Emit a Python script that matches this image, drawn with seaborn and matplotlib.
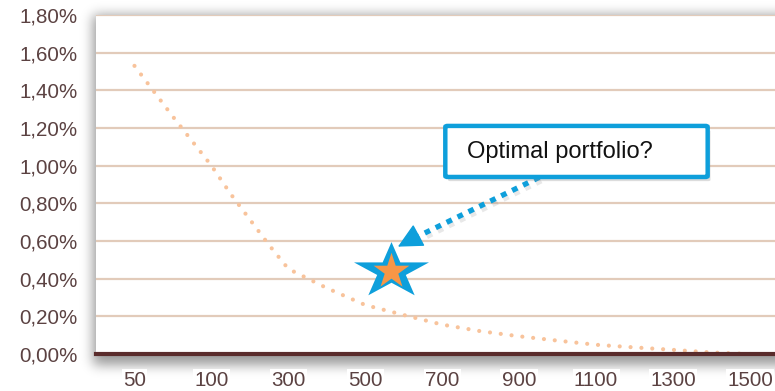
import numpy as np
import pandas as pd
import matplotlib
matplotlib.use("Agg")
import matplotlib.pyplot as plt
import matplotlib.patheffects as pe
from matplotlib.path import Path
from matplotlib.patches import FancyBboxPatch
import seaborn as sns

# Category axis: number of stocks in the portfolio
tick_sizes = [50, 100, 300, 500, 700, 900, 1100, 1300, 1500]

# Residual (diversifiable) risk versus portfolio size, in percent
curve_sizes = [50, 75, 100, 150, 200, 250, 300, 400, 500, 600, 700, 800,
               900, 1000, 1100, 1200, 1300, 1400, 1500]
curve_risk = [1.53, 1.26, 1.00, 0.85, 0.714, 0.578, 0.452, 0.350, 0.260,
              0.207, 0.156, 0.121, 0.094, 0.071, 0.049, 0.035, 0.022,
              0.008, 0.0]

# Highlighted candidate portfolio
opt_size = 566
opt_risk = 0.44
callout_text = "Optimal portfolio?"

y_ticks = [0.0, 0.2, 0.4, 0.6, 0.8, 1.0, 1.2, 1.4, 1.6, 1.8]

BLUE = "#0E9FDB"
ORANGE = "#F79646"
PEACH = "#F8C39B"
GRID = "#E2CBBA"
AXIS = "#5A2C2C"
LABEL = "#5B4242"

sns.set_theme(style="white")
plt.rcParams["font.family"] = ["Liberation Sans", "DejaVu Sans"]

W, H = 775, 391
fig = plt.figure(figsize=(W / 100, H / 100), dpi=100)

# Soft drop shadow behind the plotting area
def blur(a, s):
    r = int(3 * s)
    k = np.exp(-0.5 * (np.arange(-r, r + 1) / s) ** 2)
    k /= k.sum()
    a = np.apply_along_axis(lambda v: np.convolve(v, k, mode="same"), 0, a)
    a = np.apply_along_axis(lambda v: np.convolve(v, k, mode="same"), 1, a)
    return a

pad = 40
mask = np.zeros((H + 2 * pad, W + 2 * pad))
mask[pad + 15:pad + 365, pad + 93:] = 1.0
shadow = blur(mask, 6)[pad:pad + H, pad:pad + W]
rgba = np.zeros((H, W, 4))
rgba[..., 3] = np.clip(shadow * 0.4, 0, 1)
fig.figimage(rgba, xo=0, yo=0, origin="upper", zorder=0)

left, right = 96 / W, 1.0
bottom, top = (H - 354) / H, (H - 15) / H
ax = fig.add_axes([left, bottom, right - left, top - bottom])
ax.set_zorder(1)
ax.set_facecolor("white")

idx = np.arange(len(tick_sizes))
def to_pos(size):
    return np.interp(size, tick_sizes, idx)

df = pd.DataFrame({"pos": to_pos(np.array(curve_sizes, float)),
                   "risk": np.array(curve_risk) / 100})
sns.lineplot(data=df, x="pos", y="risk", ax=ax, color=PEACH, zorder=3)
curve = ax.lines[-1]
curve.set_linewidth(3.0)
curve.set_linestyle((0, (0.01, 2.6)))
curve.set_dash_capstyle("round")

# Star marker: blue, horizontally stretched star with orange core
ang = np.pi / 2 + np.arange(10) * np.pi / 5
rad = np.where(np.arange(10) % 2 == 0, 1.0, 0.382)
sx, sy = rad * np.cos(ang), rad * np.sin(ang)
big_star = Path(np.column_stack([sx * 1.34, sy]).tolist() + [[sx[0] * 1.34, sy[0]]],
                closed=True)
small_star = Path(np.column_stack([sx, sy]).tolist() + [[sx[0], sy[0]]],
                  closed=True)
star_df = pd.DataFrame({"pos": [to_pos(opt_size)], "risk": [opt_risk / 100]})
sns.scatterplot(data=star_df, x="pos", y="risk", ax=ax, marker=big_star,
                s=54 ** 2, color=BLUE, linewidth=0, zorder=5)
sns.scatterplot(data=star_df, x="pos", y="risk", ax=ax, marker=small_star,
                s=27 ** 2, color=ORANGE, linewidth=0, zorder=6)

# Callout box and dotted arrow
shadow_fx = [pe.SimplePatchShadow(offset=(2, -3), shadow_rgbFace="0.55", alpha=0.3),
             pe.Normal()]
box = FancyBboxPatch((4.04, 0.00940), 3.41, 0.00271,
                     boxstyle="round,pad=0,rounding_size=0.03",
                     mutation_aspect=0.0019,
                     facecolor="white", edgecolor=BLUE, lw=3.2, zorder=7,
                     path_effects=shadow_fx)
ax.add_patch(box)
ax.text(4.317, 0.01073, callout_text, fontsize=17, color="#111111",
        ha="left", va="center", zorder=8)

tip = (3.424, 0.00570)
start = (5.26, 0.00938)
ax.annotate("", xy=(3.58, 0.00604), xytext=start,
            arrowprops=dict(arrowstyle="-", lw=3.8, color=BLUE,
                            linestyle=(0, (1.1, 1.2)), capstyle="butt",
                            shrinkA=0, shrinkB=0,
                            path_effects=[pe.SimpleLineShadow(offset=(1.5, -2.5),
                                                              shadow_color="0.5",
                                                              alpha=0.18),
                                          pe.Normal()]),
            zorder=6)
ax.annotate("", xy=tip, xytext=(3.66, 0.00622),
            arrowprops=dict(arrowstyle="-|>,head_length=1.3,head_width=0.65",
                            lw=1, color=BLUE, shrinkA=0, shrinkB=0),
            zorder=6)

# Axes styling
ax.set_xlim(-0.5, 8 + (775 - 750) / 76.9)
ax.set_ylim(0, 0.018)
ax.set_yticks(np.array(y_ticks) / 100)
ax.set_yticklabels([f"{v:.2f}%".replace(".", ",") for v in y_ticks])
ax.set_xticks(idx)
ax.set_xticklabels([str(s) for s in tick_sizes])
ax.set_xlabel("")
ax.set_ylabel("")
ax.yaxis.grid(True, color=GRID, lw=1.6)
ax.xaxis.grid(False)
ax.set_axisbelow(True)
for side in ["top", "right", "left"]:
    ax.spines[side].set_visible(False)
ax.spines["bottom"].set_color(AXIS)
ax.spines["bottom"].set_linewidth(3.0)
ax.spines["bottom"].set_zorder(4)
ax.tick_params(axis="both", length=0, labelsize=14.8, labelcolor=LABEL)
ax.tick_params(axis="y", pad=13)
ax.tick_params(axis="x", pad=12)
for lab in ax.get_xticklabels():
    lab.set_bbox(dict(facecolor="white", edgecolor="none", pad=1))

fig.savefig("out.png", dpi=100)
